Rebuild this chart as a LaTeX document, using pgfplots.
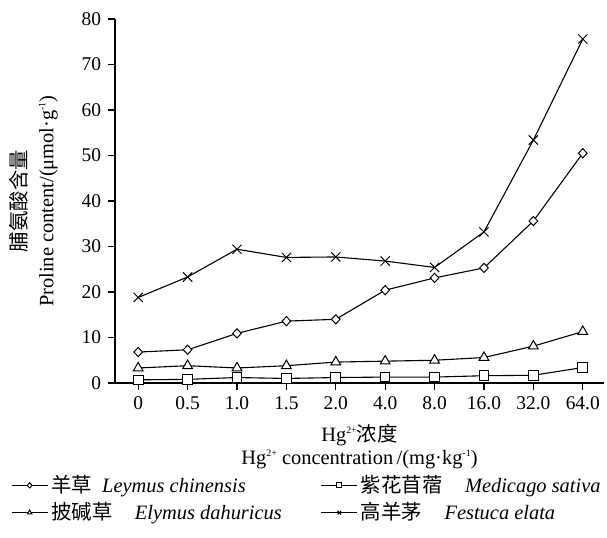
\documentclass[border=0pt]{standalone}
\usepackage{fontspec}
\setmainfont{Liberation Serif}
\newfontfamily\cjk{Noto Sans CJK SC}
\usepackage{pgfplots}
\pgfplotsset{compat=1.18}
\usepackage{pgfplotstable}

\newcommand\fs{\fontsize{20.5}{25}\selectfont}
\newcommand\sups[1]{\raisebox{0.85ex}{\fontsize{10}{10}\selectfont #1}}

% Hg2+ levels 0,0.5,1,1.5,2,4,8,16,32,64 plotted at 0..9
\pgfplotstableread{
idx leymus medicago elymus festuca
0   6.8   0.7   3.3   18.8
1   7.3   0.8   3.8   23.3
2   10.9  1.2   3.3   29.4
3   13.6  1.0   3.8   27.6
4   14.0  1.2   4.6   27.7
5   20.4  1.3   4.8   26.8
6   23.1  1.3   5.0   25.4
7   25.3  1.6   5.6   33.2
8   35.6  1.7   8.1   53.4
9   50.5  3.4   11.3  75.6
}\proline

\tikzset{
  ser/.style={black, line width=1.1bp},
  mk/.style={solid, fill=white, line width=1bp},
}

\begin{document}
\fs
\begin{tikzpicture}
\begin{axis}[
  name=ax,
  scale only axis,
  width=489bp, height=364bp,
  xmin=-0.47, xmax=9.43,
  ymin=0, ymax=80,
  xtick={0,...,9},
  xticklabels={0,0.5,1.0,1.5,2.0,4.0,8.0,16.0,32.0,64.0},
  ytick={0,10,...,80},
  axis lines=left,
  axis line style={-, line width=1.2bp},
  tick align=outside,
  major tick length=7bp,
  tick style={line width=1.2bp, black},
  /pgf/number format/assume math mode=true,
  ticklabel style={font=\fontsize{19.5}{23}\selectfont},
  xlabel={Hg\sups{2+}{\cjk 浓度}\\Hg\sups{2+} concentration\,/(mg·kg\sups{-1})},
  xlabel style={align=center, font=\fontsize{20.5}{23}\selectfont, yshift=0bp},
  ylabel={{\cjk 脯氨酸含量}\\Proline content/(μmol·g\sups{-1})},
  ylabel style={align=center, font=\fontsize{20.5}{27}\selectfont, yshift=10bp},
  legend columns=2,
  legend cell align=left,
  legend style={draw=none, fill=none, font=\fs,
    at={(0,0)}, anchor=north west, xshift=-107bp, yshift=-89bp,
    row sep=5bp,
    nodes={inner xsep=3bp, inner ysep=1bp},
    /tikz/every even column/.append style={column sep=36bp}},
  legend image code/.code={
    \draw[mark repeat=2, mark phase=2, line width=1bp, mark size=2.6bp]
      plot coordinates {(0bp,0bp) (18bp,0bp) (36bp,0bp)};
  },
]
\addplot[ser, mark=diamond*, mark size=4.6bp, mark options={mk, xscale=1.25}]
  table[x=idx, y=leymus] {\proline};
\addlegendentry{{\cjk 羊草}\hspace{0.5em}\textit{Leymus chinensis}}
\addplot[ser, mark=square*, mark size=4.8bp, mark options={mk}]
  table[x=idx, y=medicago] {\proline};
\addlegendentry{{\cjk 紫花苜蓿}\hspace{1.1em}\textit{Medicago sativa}}
\addplot[ser, mark=triangle*, mark size=5.6bp, mark options={mk}]
  table[x=idx, y=elymus] {\proline};
\addlegendentry{{\cjk 披碱草}\hspace{1.1em}\textit{Elymus dahuricus}}
\addplot[ser, mark=x, mark size=6.5bp, mark options={mk}]
  table[x=idx, y=festuca] {\proline};
\addlegendentry{{\cjk 高羊茅}\hspace{1.1em}\textit{Festuca elata}}
\end{axis}
\pgfresetboundingbox
\path ([shift={(-115bp,-155bp)}]ax.south west) rectangle ([shift={(492bp,383bp)}]ax.south west);
\end{tikzpicture}
\end{document}
